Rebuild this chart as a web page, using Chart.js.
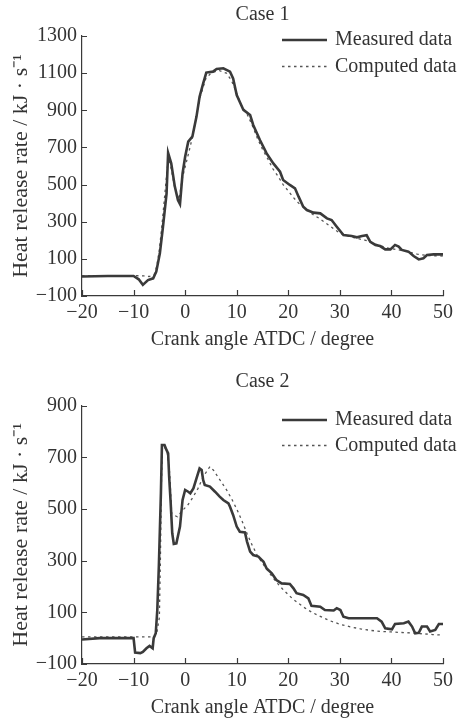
<!DOCTYPE html>
<html>
<head>
<meta charset="utf-8">
<script src="https://cdn.jsdelivr.net/npm/chart.js@4.4.1/dist/chart.umd.min.js"></script>
<style>
  html, body { margin: 0; padding: 0; background: #fff; }
  #wrap { position: relative; width: 462px; height: 720px; }
  .box { position: absolute; left: 0; width: 462px; height: 352px; }
</style>
</head>
<body>
<div id="wrap">
  <div class="box" style="top:0"><canvas id="case1" width="462" height="352"></canvas></div>
  <div class="box" style="top:368px"><canvas id="case2" width="462" height="352"></canvas></div>
</div>
<script>
// DATA — crank angle (deg ATDC) and heat release rate (kJ/s)

const xTicks = [-20, -10, 0, 10, 20, 30, 40, 50];
const yTicks1 = [-100, 100, 300, 500, 700, 900, 1100, 1300];
const yTicks2 = [-100, 100, 300, 500, 700, 900];

// Case 1
const measured1Angle = [
  -20, -15, -10, -9, -8.2, -7.2, -6.2, -5.6, -4.9, -4.3, -3.6, -3.3, -2.7, -2.0,
  -1.4, -1.0, -0.5, 0, 0.6, 1.4, 2.2, 2.8, 3.5, 4.1, 5.4, 6.1, 7.4, 8.7, 9.3, 10,
  11.3, 12.6, 13.2, 14.5, 15.8, 17.1, 18.4, 19.0, 20.3, 21.3, 22.0, 22.9, 23.6,
  24.9, 26.2, 27.5, 28.4, 29.4, 30.7, 32.3, 33.3, 34.3, 35.2, 35.9, 36.9, 37.8,
  38.8, 39.8, 40.7, 41.4, 42.0, 43.3, 44.3, 45.3, 46.2, 46.9, 48.2, 50,
];
const measured1Rate = [
  5, 8, 8, -10, -40, -14, -5, 31, 130, 273, 453, 670, 614, 489,
  417, 395, 560, 650, 731, 758, 866, 973, 1045, 1103, 1108, 1122, 1126, 1108, 1072, 982,
  902, 875, 821, 740, 668, 614, 569, 525, 498, 480, 435, 381, 363,
  349, 345, 318, 309, 273, 228, 223, 216, 223, 227, 192, 175, 169,
  151, 151, 175, 166, 148, 139, 115, 97, 103, 121, 124, 124,
];
const computed1Angle = [
  -20, -15, -10, -8, -7, -6, -5.5, -5, -4.5, -4, -3.5, -3.2, -2.8, -2, -1.2,
  -0.5, 0.5, 1.2, 2, 3, 4, 5, 6.5, 8, 9, 10, 11, 12, 13, 14, 15, 16, 17, 18,
  19, 20, 21, 22, 23, 24, 25, 26, 27, 28, 29, 30, 31, 32, 33, 35, 37, 39, 41,
  43, 45, 47, 50,
];
const computed1Rate = [
  8, 8, 10, 8, 5, 15, 60, 150, 280, 430, 580, 640, 600, 480, 420,
  540, 650, 730, 840, 980, 1070, 1100, 1115, 1100, 1060, 990, 920, 880, 820, 750, 690, 640, 585, 545,
  500, 465, 430, 400, 378, 355, 335, 318, 298, 278, 258, 238, 228, 220, 212, 200, 180, 160, 150,
  140, 125, 118, 115,
];

// Case 2
const measured2Angle = [
  -20, -16.6, -10, -9.7, -8.7, -8.2, -7.5, -6.9, -6.3, -6.1, -5.7, -5.4, -5.1, -4.7,
  -4.5, -4.0, -3.6, -3.3, -3.1, -2.8, -2.5, -2.2, -1.7, -1.0, -0.5, 0, 0.6, 1.0,
  1.6, 2.2, 2.8, 3.2, 3.5, 3.8, 4.8, 5.8, 6.7, 7.4, 8.4, 8.7, 9.3, 10, 10.6, 11.6,
  12.0, 12.6, 13.2, 14.2, 15.2, 15.8, 16.8, 17.7, 18.7, 20.3, 21.0, 21.6, 22.9,
  23.9, 24.5, 26.2, 27.1, 28.8, 29.4, 30.1, 30.7, 31.7, 33.9, 35.9, 37.2, 38.1,
  38.8, 40.1, 40.7, 42.4, 43.3, 44.0, 44.6, 45.3, 45.9, 46.9, 47.5, 48.5, 49.2, 50,
];
const measured2Rate = [
  -5, 0, 0, -56, -58, -53, -39, -30, -39, 0, 19, 109, 277, 561,
  748, 748, 728, 716, 625, 522, 406, 365, 367, 432, 535, 574, 567, 561,
  580, 619, 657, 651, 612, 593, 587, 567, 548, 535, 522, 509, 477, 432, 412, 409,
  374, 335, 322, 316, 296, 270, 251, 225, 212, 210, 193, 174, 167,
  154, 125, 122, 109, 107, 116, 109, 83, 77, 77, 77, 77, 64,
  38, 34, 55, 58, 64, 45, 19, 21, 45, 45, 26, 32, 55, 55,
];
const computed2Angle = [
  -20, -15, -10, -6, -5.5, -5, -4.8, -4.6, -4.4, -4, -3.5, -3, -2.6, -1.5, -0.5,
  0.5, 1.5, 2.5, 3.5, 4.8, 5.5, 7, 8, 9, 10, 11, 12, 13, 14, 15, 16, 17, 18, 19,
  20, 21, 22, 23, 24, 25, 26, 27, 28, 29, 30, 32, 34, 36, 38, 40, 42, 44, 46, 48, 50,
];
const computed2Rate = [
  5, 5, 5, 5, 20, 80, 300, 600, 735, 740, 720, 640, 480, 470, 495,
  515, 545, 580, 625, 664, 650, 605, 575, 540, 500, 455, 405, 360, 320, 290, 262, 235, 210, 188,
  168, 150, 135, 120, 107, 96, 86, 77, 68, 61, 54, 44, 36, 30, 26, 24, 22, 20, 17, 14, 12,
];

const seriesNames = ["Measured data", "Computed data"];

// ---------------------------------------------------------------

const INK = "#3a3a3a";
const SERIF = "'Liberation Serif', 'Times New Roman', serif";

const toPoints = (xs, ys) => xs.map((x, i) => ({ x: x, y: ys[i] }));
const minus = (v) => String(v).replace("-", "\u2212");

// inward tick marks + line legend inside the plot
const frame = {
  id: "frame",
  afterDraw(chart, args, opts) {
    const { ctx, chartArea, scales } = chart;
    ctx.save();
    ctx.strokeStyle = INK;
    ctx.lineWidth = 1.2;
    ctx.beginPath();
    scales.x.ticks.forEach((t) => {
      const px = Math.round(scales.x.getPixelForValue(t.value)) + 0.5;
      ctx.moveTo(px, chartArea.bottom);
      ctx.lineTo(px, chartArea.bottom - 6);
    });
    scales.y.ticks.forEach((t) => {
      const py = Math.round(scales.y.getPixelForValue(t.value)) + 0.5;
      ctx.moveTo(chartArea.left, py);
      ctx.lineTo(chartArea.left + 5, py);
    });
    ctx.stroke();

    ctx.font = "20px " + SERIF;
    ctx.fillStyle = "#333";
    ctx.textBaseline = "middle";
    chart.data.datasets.forEach((ds, i) => {
      const y = opts.rows[i];
      ctx.beginPath();
      ctx.strokeStyle = ds.borderColor;
      ctx.lineWidth = ds.borderWidth;
      ctx.setLineDash(ds.borderDash || []);
      ctx.moveTo(282, y);
      ctx.lineTo(327, y);
      ctx.stroke();
      ctx.setLineDash([]);
      ctx.fillText(ds.label, 335, y);
    });
    ctx.restore();
  },
};

function makeChart(id, title, titlePad, yTicks, measured, computed, rows) {
  const yMin = yTicks[0];
  const yMax = yTicks[yTicks.length - 1];
  return new Chart(document.getElementById(id), {
    type: "line",
    data: {
      datasets: [
        {
          label: seriesNames[0],
          data: measured,
          borderColor: "#3a3a3a",
          borderWidth: 2.6,
          pointRadius: 0,
          tension: 0,
        },
        {
          label: seriesNames[1],
          data: computed,
          borderColor: "#555",
          borderWidth: 1.3,
          borderDash: [2.5, 3.5],
          pointRadius: 0,
          tension: 0,
        },
      ],
    },
    options: {
      responsive: false,
      animation: false,
      layout: { padding: { left: 0, right: 19, top: 0, bottom: 0 } },
      plugins: {
        legend: { display: false },
        tooltip: { enabled: false },
        title: {
          display: true,
          fullSize: false,
          text: title,
          color: "#333",
          font: { family: SERIF, size: 20, weight: "normal" },
          padding: titlePad,
        },
        frame: { rows: rows },
      },
      scales: {
        x: {
          type: "linear",
          min: -20,
          max: 50,
          afterFit: (s) => { s.height = 56; },
          afterBuildTicks: (s) => { s.ticks = xTicks.map((v) => ({ value: v })); },
          ticks: {
            color: "#333",
            padding: 5,
            font: { family: SERIF, size: 20 },
            callback: minus,
          },
          grid: { display: true, drawOnChartArea: false, drawTicks: false },
          border: { display: true, color: INK, width: 1.2 },
          title: {
            display: true,
            text: "Crank angle ATDC / degree",
            color: "#333",
            font: { family: SERIF, size: 20 },
            padding: { top: 3, bottom: 0 },
          },
        },
        y: {
          min: yMin,
          max: yMax,
          afterFit: (s) => { s.width = 82; },
          afterBuildTicks: (s) => { s.ticks = yTicks.map((v) => ({ value: v })); },
          ticks: {
            color: "#333",
            padding: 5,
            font: { family: SERIF, size: 20 },
            callback: minus,
          },
          grid: { display: true, drawOnChartArea: false, drawTicks: false },
          border: { display: true, color: INK, width: 1.2 },
          title: {
            display: true,
            text: "Heat release rate / kJ \u00b7 s\u207b\u00b9",
            color: "#333",
            font: { family: SERIF, size: 22 },
            padding: { top: 7.8, bottom: 0 },
          },
        },
      },
    },
    plugins: [frame],
  });
}

makeChart("case1", "Case 1", { top: 2.5, bottom: 9.5 }, yTicks1,
  toPoints(measured1Angle, measured1Rate), toPoints(computed1Angle, computed1Rate), [40, 66.5]);

makeChart("case2", "Case 2", { top: 1.7, bottom: 12 }, yTicks2,
  toPoints(measured2Angle, measured2Rate), toPoints(computed2Angle, computed2Rate), [52, 77.5]);
</script>
</body>
</html>
